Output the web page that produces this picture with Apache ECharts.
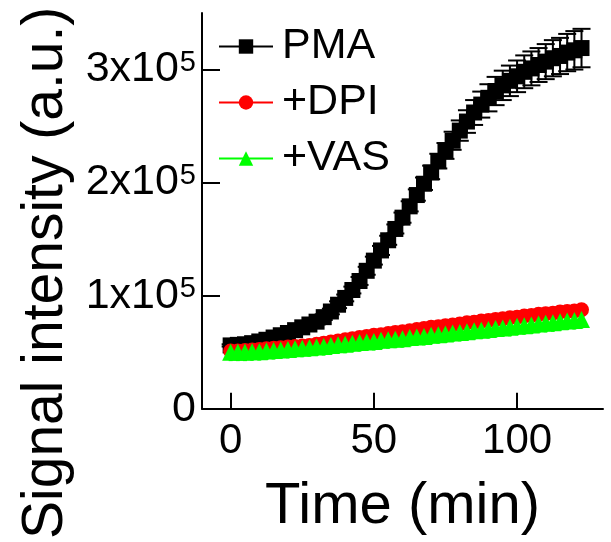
<!DOCTYPE html>
<html>
<head>
<meta charset="utf-8">
<script src="https://cdn.jsdelivr.net/npm/echarts@6/dist/echarts.min.js"></script>
<style>
html,body{margin:0;padding:0;background:#fff;}
#chart{width:611px;height:542px;}
</style>
</head>
<body>
<div id="chart"></div>
<script>
const seriesNames = ['PMA', '+DPI', '+VAS'];
const times = [0,2.5,5,7.5,10,12.5,15,17.5,20,22.5,25,27.5,30,32.5,35,37.5,40,42.5,45,47.5,50,52.5,55,57.5,60,62.5,65,67.5,70,72.5,75,77.5,80,82.5,85,87.5,90,92.5,95,97.5,100,102.5,105,107.5,110,112.5,115,117.5,120,122.5];
const pma = [56000,56500,57000,58000,59500,61000,63000,65000,67000,69500,72000,74500,77000,81000,86000,92000,98000,105000,113000,122000,131000,140000,149000,159000,169000,179000,189000,199000,209000,219000,228000,237000,246000,254000,262000,269000,275000,281000,286000,290000,294000,298000,301000,304000,307000,310000,312000,315000,317000,319000];
const pmaErr = [1000,1000,1000,1000,1500,1500,1500,1500,2000,2000,2000,2000,2500,2500,2500,3000,3000,3000,3500,3500,3500,4000,4000,4000,4500,4500,5000,5500,6000,6500,7000,8000,9000,10000,11000,11500,12000,12500,13000,13500,14000,14500,15000,15000,15500,16000,16000,16500,17000,17000];
const dpi = [51000,51000,51500,52000,52500,53000,53500,54000,54500,55000,55500,56000,57000,58000,59000,60000,61000,62000,63000,64000,65000,65500,66500,67500,68000,69000,70000,71000,72000,72500,73500,74000,75000,76000,76500,77500,78000,79000,79500,80500,81000,82000,82500,83500,84000,84500,85500,86000,86500,87500];
const dpiErr = [4000,4000,4000,4000,4000,4000,4000,4000,4000,4000,4000,4000,4000,4000,4000,4000,4000,4000,4000,4000,4000,4000,4000,4000,4000,4000,4000,4000,4000,4000,4000,4000,4000,4000,4000,4000,4000,4000,4000,4000,4000,4000,4000,4000,4000,4000,4000,4000,4000,4000];
const vas = [50000,50000,50000,50500,50500,51000,51500,52000,52500,53000,53500,54000,54500,55000,56000,56500,57000,58000,58500,59000,59500,60500,61000,61500,62000,63000,63500,64000,65000,65500,66000,67000,67500,68000,69000,69500,70000,71000,71500,72000,73000,73500,74000,75000,75500,76000,77000,77500,78000,79000];
const vasErr = [7000,7000,7000,7000,7000,7000,7000,7000,7000,7000,7000,7000,7000,7000,7000,7000,7000,7000,7000,7000,7000,7000,7000,7000,7000,7000,7000,7000,7000,7000,7000,7000,7000,7000,7000,7000,7000,7000,7000,7000,7000,7000,7000,7000,7000,7000,7000,7000,7000,7000];
const xTicks = [0, 50, 100];
const yTicks = [0, 100000, 200000, 300000];
const yTickLabels = ['0', '1x10{sup|5}', '2x10{sup|5}', '3x10{sup|5}'];

const FONT = '"Liberation Sans", Arial, sans-serif';

function pts(vals) { return times.map((t, i) => [t, vals[i]]); }
function errPts(vals, errs) { return times.map((t, i) => [t, vals[i] - errs[i], vals[i] + errs[i]]); }

function errSeries(name, vals, errs, color, capW) {
  return {
    name: name, type: 'custom', silent: true,
    data: errPts(vals, errs),
    renderItem: function (params, api) {
      const x = api.value(0);
      const lo = api.coord([x, api.value(1)]);
      const hi = api.coord([x, api.value(2)]);
      const st = { stroke: color, lineWidth: 2 };
      return { type: 'group', children: [
        { type: 'line', shape: { x1: lo[0], y1: lo[1], x2: hi[0], y2: hi[1] }, style: st },
        { type: 'line', shape: { x1: lo[0] - capW / 2, y1: lo[1], x2: lo[0] + capW / 2, y2: lo[1] }, style: st },
        { type: 'line', shape: { x1: hi[0] - capW / 2, y1: hi[1], x2: hi[0] + capW / 2, y2: hi[1] }, style: st }
      ]};
    },
    z: 2
  };
}

const chart = echarts.init(document.getElementById('chart'), null, { renderer: 'canvas' });
chart.setOption({
  animation: false,
  backgroundColor: '#fff',
  grid: { left: 202, right: 8, top: 13, bottom: 129, containLabel: false },
  legend: {
    data: seriesNames,
    orient: 'vertical',
    left: 213, top: 20,
    itemWidth: 54, itemHeight: 18, itemGap: 13,
    textStyle: { fontFamily: FONT, fontSize: 43, color: '#000', padding: [0, 0, 0, 4] }
  },
  xAxis: {
    type: 'value', min: -10, max: 130,
    name: 'Time (min)', nameLocation: 'middle', nameGap: 69,
    nameTextStyle: { fontFamily: FONT, fontSize: 58, color: '#000' },
    axisLine: { show: true, onZero: false, lineStyle: { color: '#000', width: 2 } },
    axisTick: { show: true, inside: true, length: 16, customValues: xTicks, lineStyle: { color: '#000', width: 2 } },
    axisLabel: { customValues: xTicks, fontFamily: FONT, fontSize: 42, color: '#000', margin: 12 },
    splitLine: { show: false }
  },
  yAxis: {
    type: 'value', min: 0, max: 350000,
    name: 'Signal intensity (a.u.)', nameLocation: 'middle', nameGap: 127, nameRotate: 90,
    nameTextStyle: { fontFamily: FONT, fontSize: 57, color: '#000', padding: [0, 124, 0, 0] },
    axisLine: { show: true, onZero: false, lineStyle: { color: '#000', width: 2 } },
    axisTick: { show: true, inside: true, length: 18, customValues: yTicks, lineStyle: { color: '#000', width: 2 } },
    axisLabel: {
      customValues: yTicks, margin: 6,
      formatter: function (v) { return yTickLabels[yTicks.indexOf(v)]; },
      fontFamily: FONT, fontSize: 43, color: '#000',
      rich: { sup: { fontFamily: FONT, fontSize: 29, color: '#000', verticalAlign: 'top', lineHeight: 43, padding: [0, 0, 20, 1] } }
    },
    splitLine: { show: false }
  },
  series: [
    errSeries('pmaErr', pma, pmaErr, '#000', 18),
    { name: 'PMA', type: 'line', data: pts(pma), symbol: 'rect', symbolSize: 16, color: '#000',
      itemStyle: { color: '#000' }, lineStyle: { color: '#000', width: 2 }, z: 3 },
    errSeries('dpiErr', dpi, dpiErr, '#ff0000', 5),
    { name: '+DPI', type: 'line', data: pts(dpi), symbol: 'circle', symbolSize: 15, color: '#ff0000',
      itemStyle: { color: '#ff0000' }, lineStyle: { color: '#ff0000', width: 2 }, z: 4 },
    errSeries('vasErr', vas, vasErr, '#00ff00', 4),
    { name: '+VAS', type: 'line', data: pts(vas), symbol: 'triangle', symbolSize: 17, color: '#00ff00',
      itemStyle: { color: '#00ff00' }, lineStyle: { color: '#00ff00', width: 2 }, z: 5 }
  ]
});
</script>
</body>
</html>
